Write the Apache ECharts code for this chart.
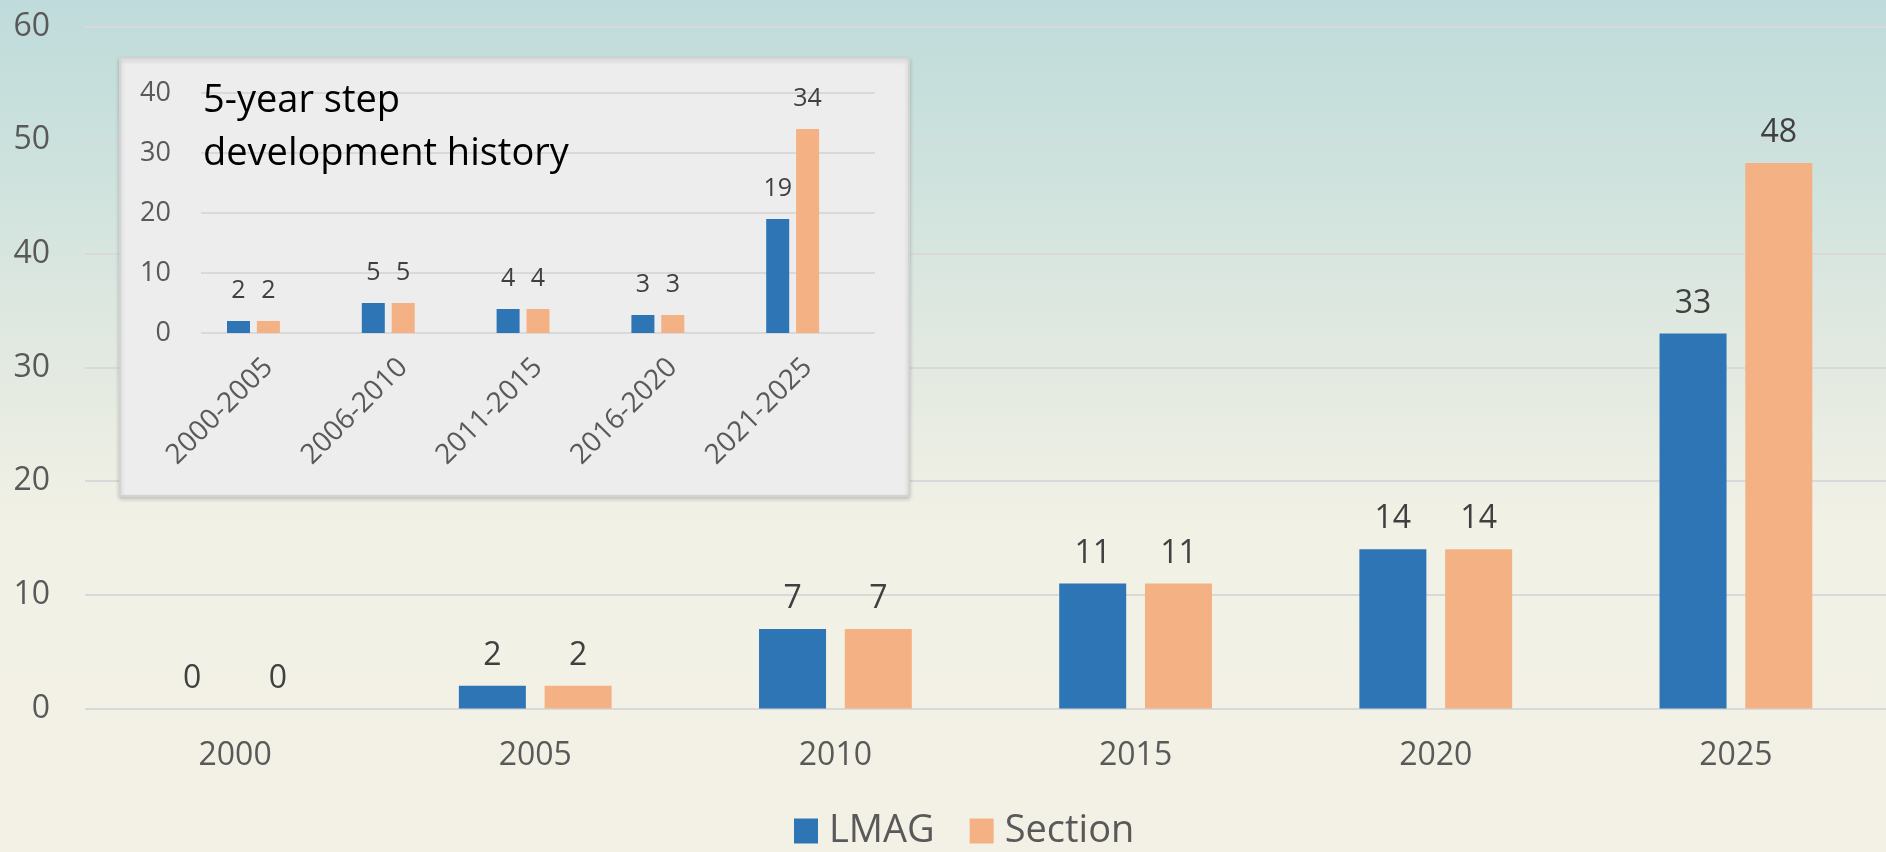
<!DOCTYPE html>
<html>
<head>
<meta charset="utf-8">
<script src="https://cdn.jsdelivr.net/npm/echarts@6/dist/echarts.min.js"></script>
<style>
html,body{margin:0;padding:0;}
#chart{width:1886px;height:852px;}
</style>
</head>
<body>
<div id="chart"></div>
<script>
// ---- data ----
const years = ['2000', '2005', '2010', '2015', '2020', '2025'];
const lmag = [0, 2, 7, 11, 14, 33];
const section = [0, 2, 7, 11, 14, 48];

const periods = ['2000-2005', '2006-2010', '2011-2015', '2016-2020', '2021-2025'];
const lmagStep = [2, 5, 4, 3, 19];
const sectionStep = [2, 5, 4, 3, 34];
const emptyStep = [null, null, null, null, null];

const mainTicks = { min: 0, max: 60, interval: 10 };
const insetTicks = { min: 0, max: 40, interval: 10 };
const insetTitle = '5-year step\ndevelopment history';

// ---- styles ----
const FONT = "'Open Sans', 'Liberation Sans', sans-serif";
const BLUE = '#2e75b6';
const ORANGE = '#f4b183';
const AXIS_TXT = '#595959';
const LABEL_TXT = '#404040';
const GRIDLINE = '#d9d9d9';

const chart = echarts.init(document.getElementById('chart'));

const option = {
  backgroundColor: {
    type: 'linear', x: 0, y: 0, x2: 0, y2: 1,
    colorStops: [
      { offset: 0, color: '#bfdbdb' },
      { offset: 0.19, color: '#cde2dd' },
      { offset: 0.38, color: '#dfe8e0' },
      { offset: 0.52, color: '#eaede3' },
      { offset: 0.62, color: '#f2f1e6' },
      { offset: 1, color: '#f3f1e6' }
    ]
  },
  textStyle: { fontFamily: FONT },
  animation: false,
  title: {
    text: insetTitle,
    left: 198,
    top: 70,
    z: 10,
    textStyle: { fontFamily: FONT, fontSize: 38, fontWeight: 'normal', color: '#000000', lineHeight: 53 }
  },
  legend: {
    data: ['LMAG', 'Section'],
    left: 794,
    top: 812,
    padding: 0,
    icon: 'rect',
    itemWidth: 24,
    itemHeight: 25,
    itemGap: 35,
    textStyle: { fontFamily: FONT, fontSize: 38, color: AXIS_TXT, padding: [0, 0, 0, 6] }
  },
  graphic: [{
    type: 'rect',
    z: 1,
    shape: { x: 120, y: 58, width: 789, height: 438 },
    style: {
      fill: '#ededed', stroke: '#d3d3d3', lineWidth: 2,
      shadowBlur: 4, shadowColor: 'rgba(0,0,0,0.18)', shadowOffsetY: 2
    }
  }],
  grid: [
    { left: 85, top: 26.5, width: 1807, height: 682 },
    { left: 201, top: 93, width: 674, height: 240 }
  ],
  xAxis: [
    {
      type: 'category', gridIndex: 0, data: years,
      axisLine: { show: false }, axisTick: { show: false },
      axisLabel: { fontFamily: FONT, fontSize: 32, color: AXIS_TXT, margin: 31 }
    },
    {
      type: 'category', gridIndex: 1, data: periods, z: 3,
      axisLine: { show: false }, axisTick: { show: false },
      axisLabel: { fontFamily: FONT, fontSize: 28, color: AXIS_TXT, rotate: 45, margin: 30, interval: 0 }
    }
  ],
  yAxis: [
    {
      type: 'value', gridIndex: 0, min: mainTicks.min, max: mainTicks.max, interval: mainTicks.interval,
      axisLine: { show: false }, axisTick: { show: false },
      splitLine: { lineStyle: { color: GRIDLINE, width: 2 } },
      axisLabel: { fontFamily: FONT, fontSize: 32, color: AXIS_TXT, margin: 35 }
    },
    {
      type: 'value', gridIndex: 1, min: insetTicks.min, max: insetTicks.max, interval: insetTicks.interval, z: 3,
      axisLine: { show: false }, axisTick: { show: false },
      splitLine: { lineStyle: { color: GRIDLINE, width: 2 } },
      axisLabel: { fontFamily: FONT, fontSize: 27, color: AXIS_TXT, margin: 30 }
    }
  ],
  series: [
    {
      name: 'LMAG', type: 'bar', xAxisIndex: 0, yAxisIndex: 0, data: lmag,
      barWidth: 67, barGap: '28%', itemStyle: { color: BLUE },
      label: { show: true, position: 'top', distance: 14, fontFamily: FONT, fontSize: 32, color: LABEL_TXT }
    },
    {
      name: 'Section', type: 'bar', xAxisIndex: 0, yAxisIndex: 0, data: section,
      barWidth: 67, barGap: '28%', itemStyle: { color: ORANGE },
      label: { show: true, position: 'top', distance: 14, fontFamily: FONT, fontSize: 32, color: LABEL_TXT }
    },
    {
      name: 'LMAG', type: 'bar', xAxisIndex: 1, yAxisIndex: 1, data: lmagStep, z: 4,
      barWidth: 23, barGap: '30%', itemStyle: { color: BLUE },
      label: { show: true, position: 'top', distance: 18, fontFamily: FONT, fontSize: 25, color: LABEL_TXT }
    },
    {
      name: 'Section', type: 'bar', xAxisIndex: 1, yAxisIndex: 1, data: sectionStep, z: 4,
      barWidth: 23, barGap: '30%', itemStyle: { color: ORANGE },
      label: { show: true, position: 'top', distance: 18, fontFamily: FONT, fontSize: 25, color: LABEL_TXT }
    },
    {
      name: 'spacer', type: 'bar', xAxisIndex: 1, yAxisIndex: 1, data: emptyStep, z: 4,
      barWidth: 23, barGap: '30%', itemStyle: { color: 'transparent' }
    }
  ]
};
chart.setOption(option);
</script>
</body>
</html>
